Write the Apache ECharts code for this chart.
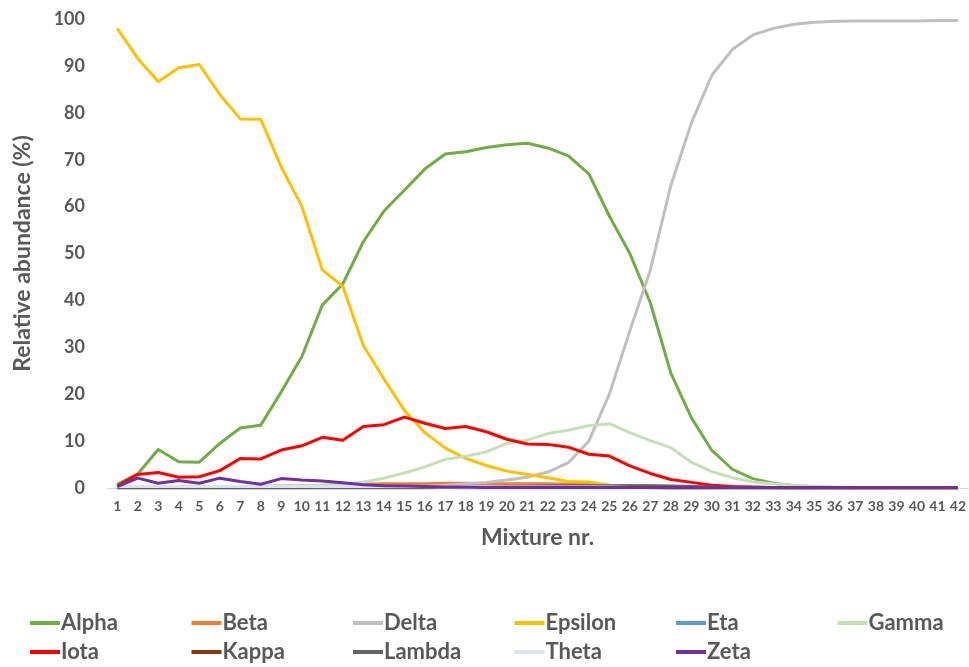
<!DOCTYPE html>
<html>
<head>
<meta charset="utf-8">
<script src="https://cdn.jsdelivr.net/npm/echarts@6/dist/echarts.min.js"></script>
<style>
  html, body { margin: 0; padding: 0; background: #fff; }
  #chart { width: 969px; height: 667px; }
</style>
</head>
<body>
<div id="chart"></div>
<script>
// mixture numbers 1..42
var mixtures = ['1','2','3','4','5','6','7','8','9','10','11','12','13','14','15','16','17','18','19','20','21',
  '22','23','24','25','26','27','28','29','30','31','32','33','34','35','36','37','38','39','40','41','42'];

var alpha = [0.8, 3, 8.2, 5.6, 5.5, 9.5, 12.8, 13.4, 20.5, 28, 39, 43.5, 52.5, 59, 63.5, 68, 71.2, 71.7, 72.6, 73.2, 73.5,
  72.5, 70.8, 67, 58, 50, 39.5, 24.5, 15, 8, 4, 2, 1, 0.5, 0.2, 0.1, 0, 0, 0, 0, 0, 0];
var beta = [0.1, 0.1, 0.2, 0.2, 0.2, 0.3, 0.3, 0.3, 0.4, 0.5, 0.6, 0.7, 0.8, 0.9, 0.9, 0.9, 1.0, 1.0, 0.9, 0.9, 0.9,
  0.9, 0.8, 0.8, 0.6, 0.5, 0.4, 0.3, 0.2, 0.1, 0.1, 0, 0, 0, 0, 0, 0, 0, 0, 0, 0, 0];
var delta = [0, 0, 0, 0, 0, 0, 0, 0, 0, 0, 0.1, 0.1, 0.2, 0.2, 0.3, 0.4, 0.6, 0.9, 1.2, 1.7, 2.3,
  3.4, 5.4, 10, 20, 33.5, 46.5, 64.5, 77.8, 88, 93.5, 96.6, 98, 98.9, 99.3, 99.5, 99.6, 99.6, 99.6, 99.6, 99.7, 99.7];
var epsilon = [98, 91.6, 86.7, 89.6, 90.3, 83.9, 78.7, 78.6, 68.4, 60.1, 46.5, 43, 30.4, 23.3, 16.6, 11.8, 8.5, 6.3, 4.8, 3.6, 2.9,
  2.2, 1.4, 1.3, 0.6, 0.3, 0.1, 0, 0, 0, 0, 0, 0, 0, 0, 0, 0, 0, 0, 0, 0, 0];
var eta = [0.2, 0.2, 0.2, 0.2, 0.2, 0.2, 0.2, 0.2, 0.2, 0.2, 0.2, 0.2, 0.1, 0.1, 0.1, 0.1, 0.1, 0, 0, 0, 0,
  0, 0, 0, 0, 0, 0, 0, 0, 0, 0, 0, 0, 0, 0, 0, 0, 0, 0, 0, 0, 0];
var gamma = [0.2, 0.2, 0.2, 0.2, 0.2, 0.3, 0.3, 0.3, 0.4, 0.5, 0.6, 0.8, 1.3, 2.1, 3.2, 4.5, 6.1, 6.8, 7.7, 9.5, 10.2,
  11.6, 12.3, 13.3, 13.7, 11.8, 10.1, 8.6, 5.5, 3.5, 2.2, 1.3, 0.9, 0.6, 0.4, 0.2, 0.1, 0.1, 0, 0, 0, 0];
var iota = [0.4, 2.9, 3.3, 2.3, 2.4, 3.7, 6.3, 6.2, 8.1, 9.0, 10.8, 10.2, 13.1, 13.5, 15.1, 13.8, 12.7, 13.1, 12.0, 10.4, 9.4,
  9.3, 8.7, 7.2, 6.8, 4.7, 3.1, 1.8, 1.2, 0.6, 0.3, 0.2, 0.1, 0, 0, 0, 0, 0, 0, 0, 0, 0];
var kappa = [0.1, 0.1, 0.1, 0.1, 0.1, 0.1, 0.1, 0.1, 0.1, 0.1, 0.1, 0.1, 0.1, 0.1, 0.1, 0.1, 0.1, 0.1, 0.1, 0.1, 0.1,
  0.1, 0.1, 0.1, 0.1, 0.1, 0.1, 0, 0, 0, 0, 0, 0, 0, 0, 0, 0, 0, 0, 0, 0, 0];
var lambda = [0, 0, 0, 0, 0, 0, 0, 0, 0, 0, 0, 0, 0, 0, 0, 0, 0.1, 0.1, 0.2, 0.3, 0.3,
  0.4, 0.5, 0.5, 0.5, 0.5, 0.5, 0.4, 0.3, 0.2, 0.1, 0.1, 0, 0, 0, 0, 0, 0, 0, 0, 0, 0];
var theta = [0.3, 0.3, 0.3, 0.3, 0.3, 0.3, 0.3, 0.3, 0.3, 0.3, 0.3, 0.3, 0.3, 0.3, 0.3, 0.3, 0.2, 0.2, 0.2, 0.2, 0.2,
  0.2, 0.2, 0.2, 0.2, 0.1, 0.1, 0.1, 0.1, 0.1, 0, 0, 0, 0, 0, 0, 0, 0, 0, 0, 0, 0];
var zeta = [0.3, 2.1, 1.0, 1.6, 1.0, 2.1, 1.4, 0.8, 2.0, 1.7, 1.5, 1.1, 0.7, 0.5, 0.4, 0.3, 0.2, 0.2, 0.1, 0.1, 0.1,
  0.1, 0.1, 0.1, 0.1, 0.1, 0.1, 0.1, 0.1, 0.1, 0.1, 0.1, 0.1, 0.1, 0.1, 0.1, 0.1, 0.1, 0.1, 0.1, 0.1, 0.1];

var seriesNames = ['Alpha', 'Beta', 'Delta', 'Epsilon', 'Eta', 'Gamma', 'Iota', 'Kappa', 'Lambda', 'Theta', 'Zeta'];
var seriesData = [alpha, beta, delta, epsilon, eta, gamma, iota, kappa, lambda, theta, zeta];
var seriesColors = ['#70AD47', '#ED7D31', '#BFBFBF', '#FFC000', '#5B9BD5', '#C5E0B4',
  '#FF0000', '#843C0C', '#636363', '#DAE3F3', '#7030A0'];
var yTicks = [0, 10, 20, 30, 40, 50, 60, 70, 80, 90, 100];

var textGrey = '#595959';
var chart = echarts.init(document.getElementById('chart'));

// legend: 6 columns, two rows, one legend per entry so the columns line up
var legends = seriesNames.map(function (name, i) {
  return {
    data: [name],
    left: 25 + (i % 6) * 161.5,
    top: i < 6 ? 607 : 636,
    icon: 'rect',
    itemWidth: 30,
    itemHeight: 4,
    textStyle: { color: textGrey, fontSize: 22, fontWeight: 'bold', fontFamily: 'Lato', padding: [0, 0, 0, -4] },
    selectedMode: false
  };
});

chart.setOption({
  animation: false,
  legend: legends,
  grid: { left: 107, right: 0, top: 19, bottom: 179 },
  xAxis: {
    type: 'category',
    data: mixtures,
    boundaryGap: true,
    name: 'Mixture nr.',
    nameLocation: 'middle',
    nameGap: 38,
    nameTextStyle: { color: textGrey, fontSize: 23, fontWeight: 'bold', fontFamily: 'Lato' },
    axisLine: { lineStyle: { color: '#D9D9D9', width: 1 } },
    axisTick: { show: false },
    axisLabel: { color: textGrey, fontSize: 14, fontWeight: 'bold', fontFamily: 'Lato', margin: 11, interval: 0 }
  },
  yAxis: {
    type: 'value',
    min: yTicks[0],
    max: yTicks[yTicks.length - 1],
    interval: 10,
    name: 'Relative abundance (%)',
    nameLocation: 'middle',
    nameGap: 73,
    nameTextStyle: { color: textGrey, fontSize: 23, fontWeight: 'bold', fontFamily: 'Lato' },
    axisLine: { show: false },
    axisTick: { show: false },
    splitLine: { show: false },
    axisLabel: { color: textGrey, fontSize: 18, fontWeight: 'bold', fontFamily: 'Lato', margin: 22 }
  },
  series: seriesNames.map(function (name, i) {
    return {
      name: name,
      type: 'line',
      data: seriesData[i],
      symbol: 'none',
      color: seriesColors[i],
      lineStyle: { width: 3, color: seriesColors[i], join: 'round' }
    };
  })
});
</script>
</body>
</html>
